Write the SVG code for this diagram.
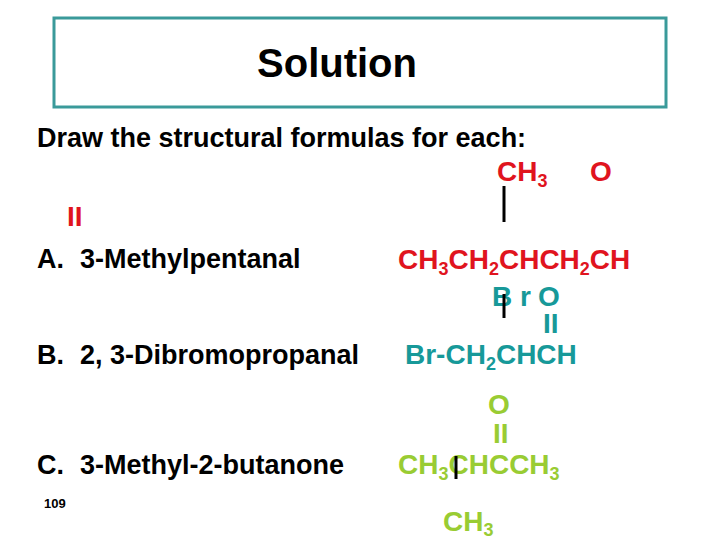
<svg xmlns="http://www.w3.org/2000/svg" width="720" height="540" viewBox="0 0 720 540">
<style>
text{font-family:"Liberation Sans",Arial,sans-serif;font-weight:bold}
.b{font-size:27px;fill:#000}
.r{font-size:28px;fill:#e0141e}
.t{font-size:28px;fill:#179999}
.g{font-size:28px;fill:#99cc33}
.s{font-size:18px}
.bond{stroke:#000;stroke-width:3}
</style>
<rect width="720" height="540" fill="#fff"/>
<g id="title">
<rect x="54" y="18" width="612" height="89" fill="#fff" stroke="#3a9a9a" stroke-width="3"/>
<text x="337" y="77" font-size="40" text-anchor="middle" fill="#000">Solution</text>
</g>
<g id="heading"><text class="b" x="37" y="147">Draw the structural formulas for each:</text></g>
<g id="labels">
<text class="b" x="37" y="268">A.<tspan x="80">3-Methylpentanal</tspan></text>
<text class="b" x="37" y="364">B.<tspan x="80">2, 3-Dibromopropanal</tspan></text>
<text class="b" x="37" y="474">C.<tspan x="80">3-Methyl-2-butanone</tspan></text>
<text x="44" y="508" font-size="13" font-weight="normal" fill="#000">109</text>
</g>
<g id="formulaA">
<text class="r" x="497" y="181">CH<tspan class="s" dy="6">3</tspan></text>
<text class="r" x="590" y="181">O</text>
<text class="r" x="398" y="269">CH<tspan class="s" dy="6">3</tspan><tspan dy="-6">CH</tspan><tspan class="s" dy="6">2</tspan><tspan dy="-6">CHCH</tspan><tspan class="s" dy="6">2</tspan><tspan dy="-6">CH</tspan></text>
<text class="r" x="67" y="226" font-size="24">II</text>
</g>
<g id="formulaB">
<text class="t" x="492" y="306" font-size="26">B r</text>
<text class="t" x="538" y="306" font-size="26">O</text>
<text class="t" x="543" y="333" font-size="18">II</text>
<text class="t" x="405" y="364">Br-CH<tspan class="s" dy="6">2</tspan><tspan dy="-6">CHCH</tspan></text>
</g>
<g id="formulaC">
<text class="g" x="488" y="414" font-size="26">O</text>
<text class="g" x="493" y="443" font-size="18">II</text>
<text class="g" x="398" y="474">CH<tspan class="s" dy="6">3</tspan><tspan dy="-6">CHCCH</tspan><tspan class="s" dy="6">3</tspan></text>
<text class="g" x="443" y="531">CH<tspan class="s" dy="5">3</tspan></text>
</g>
<g id="connectors">
<line class="bond" x1="504" y1="186" x2="504" y2="222"/>
<line class="bond" x1="504" y1="294" x2="504" y2="318"/>
<line class="bond" x1="456" y1="456" x2="456" y2="479"/>
</g>
</svg>
